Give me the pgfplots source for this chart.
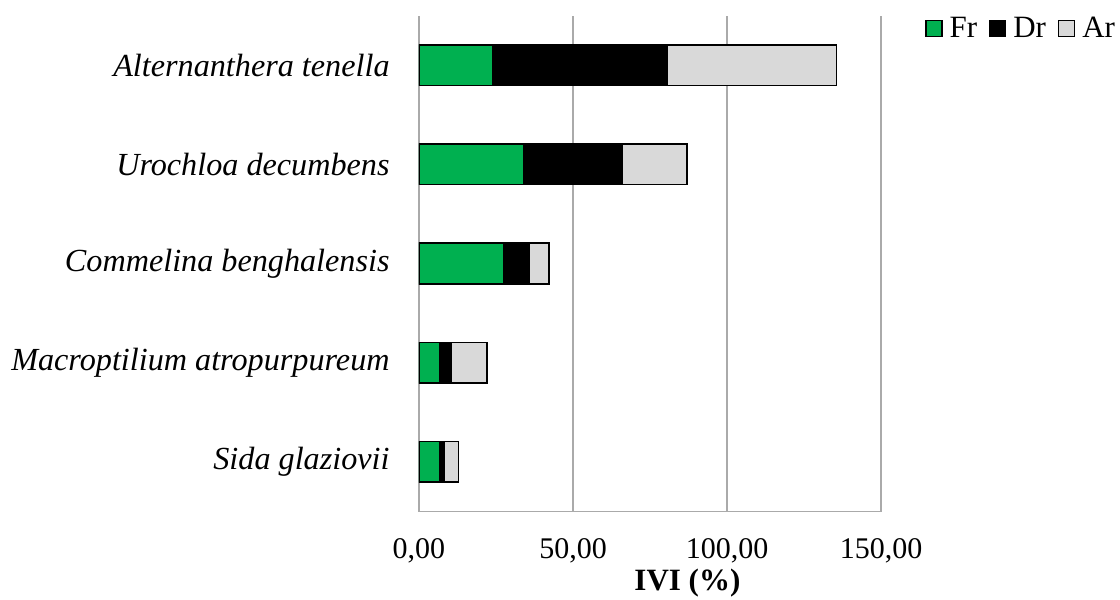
\documentclass[border=0pt]{standalone}
\usepackage{fontspec}
\setmainfont{Liberation Serif}
\usepackage{pgfplots}
\pgfplotsset{compat=1.18}
\definecolor{frgreen}{RGB}{0,176,80}
\definecolor{argray}{RGB}{217,217,217}
\definecolor{gridgray}{RGB}{170,170,170}
\begin{document}
\fontsize{15pt}{18pt}\selectfont
\begin{tikzpicture}
\begin{axis}[
  at={(209.5pt,44.25pt)}, anchor=south west,
  scale only axis, width=231pt, height=248pt,
  xbar stacked, bar width=0.41,
  xmin=0, xmax=150, ymin=-0.5, ymax=4.5,
  xtick={0,50,100,150},
  ytick={0,1,2,3,4},
  yticklabels={Sida glaziovii, Macroptilium atropurpureum, Commelina benghalensis, Urochloa decumbens, Alternanthera tenella},
  major tick length=0pt,
  axis x line*=bottom, axis y line*=left,
  axis line style={gridgray, line width=0.6pt, -},
  xmajorgrids, grid style={gridgray, line width=0.6pt},
  tick label style={font=\fontsize{15pt}{18pt}\selectfont},
  yticklabel style={font=\fontsize{16.1pt}{19pt}\selectfont\itshape, anchor=east, xshift=-9.5pt},
  xticklabel style={anchor=base, yshift=-23.25pt},
  /pgf/number format/.cd, fixed, fixed zerofill, precision=2, use comma, assume math mode=true, /pgfplots/.cd,
  xlabel={\textbf{IVI (\%)}},
  xlabel style={font=\fontsize{15.5pt}{18pt}\selectfont, at={(rel axis cs:0.581,0)}, anchor=base, yshift=-39.25pt},
  every axis plot/.append style={draw=black, line width=0.8pt},
  legend columns=3,
  legend image code/.code={\draw[#1, line width=0.6pt] (0pt,-3.5pt) rectangle (8pt,4.5pt);},
  legend style={draw=none, fill=none, inner sep=0pt, at={(rel axis cs:1.0952,0.9718)}, anchor=west,
    font=\fontsize{15.5pt}{18pt}\selectfont, nodes={inner sep=0pt},
    /tikz/every odd column/.append style={column sep=3.5pt},
    /tikz/every even column/.append style={column sep=6pt}},
]
\addplot[fill=frgreen] coordinates {(23.8,4) (34.1,3) (27.4,2) (6.8,1) (6.8,0)};
\addplot[fill=black] coordinates {(56.7,4) (31.8,3) (8.3,2) (3.5,1) (1.4,0)};
\addplot[fill=argray] coordinates {(55.1,4) (21.1,3) (6.5,2) (11.7,1) (4.6,0)};
\legend{Fr,Dr,Ar}
\end{axis}
\pgfresetboundingbox
\path (0,0) rectangle (560pt,300pt);
\end{tikzpicture}
\end{document}
